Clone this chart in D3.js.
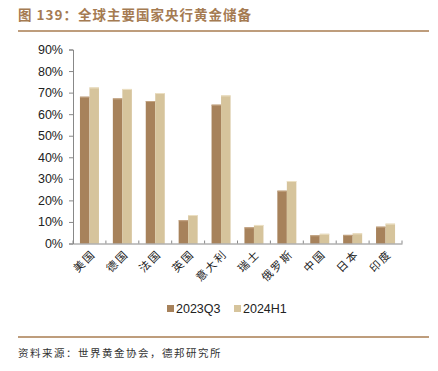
<!DOCTYPE html>
<html>
<head>
<meta charset="utf-8">
<script src="https://cdn.jsdelivr.net/npm/d3@7"></script>
<style>
  body { margin: 0; background: #fff; }
  svg { display: block; }
</style>
</head>
<body>
<div id="chart"></div>
<script>
// countries and gold share of reserves (%)
const countries = ["美国", "德国", "法国", "英国", "意大利", "瑞士", "俄罗斯", "中国", "日本", "印度"];
const series = ["2023Q3", "2024H1"];
const q3 = [68.1, 67.3, 66.1, 10.8, 64.4, 7.5, 24.5, 3.8, 4.0, 7.8];
const h1 = [72.4, 71.7, 69.8, 13.2, 68.7, 8.6, 29.0, 4.5, 4.7, 9.2];
const yTicks = [0, 10, 20, 30, 40, 50, 60, 70, 80, 90];

const W = 438, H = 371;
const colors = ["#a7825b", "#d6c49c"];
const cjk = "'Noto Sans CJK SC', sans-serif";

const svg = d3.select("#chart").append("svg")
    .attr("width", W)
    .attr("height", H);

// title
svg.append("text")
    .attr("x", 18).attr("y", 20)
    .attr("font-family", cjk)
    .attr("font-size", 13.5)
    .attr("font-weight", "bold")
    .attr("letter-spacing", 1)
    .attr("fill", "#a57b52")
    .text("图 139：全球主要国家央行黄金储备");

svg.append("line")
    .attr("x1", 18).attr("x2", 429)
    .attr("y1", 31).attr("y2", 31)
    .attr("stroke", "#a97c50").attr("stroke-width", 1.5);

// scales
let x = d3.scaleBand().domain(countries).range([73, 402]);
let y = d3.scaleLinear().domain([0, 90]).range([243.5, 49.5]);
let xs = d3.scaleBand().domain(series).range([0, 19]);

const g = svg.append("g");

// bars
const data = countries.map((c, i) => ({ c, vals: [q3[i], h1[i]] }));
const grp = g.selectAll("g.cat")
    .data(data)
  .enter().append("g")
    .attr("class", "cat")
    .attr("transform", d => "translate(" + (x(d.c) + x.bandwidth() / 2 - 9.5) + ",0)");

grp.selectAll("rect")
    .data(d => d.vals.map((v, j) => ({ s: series[j], v, j })))
  .enter().append("rect")
    .attr("x", d => xs(d.s))
    .attr("width", xs.bandwidth())
    .attr("y", d => y(d.v))
    .attr("height", d => y(0) - y(d.v))
    .attr("fill", d => colors[d.j]);

// thin highlight on bar tops
grp.selectAll("line.top")
    .data(d => d.vals.map((v, j) => ({ s: series[j], v, j })))
  .enter().append("line")
    .attr("class", "top")
    .attr("x1", d => xs(d.s)).attr("x2", d => xs(d.s) + xs.bandwidth())
    .attr("y1", d => y(d.v) + 0.5).attr("y2", d => y(d.v) + 0.5)
    .attr("stroke", d => d.j === 0 ? "#c4a583" : "#ece0c4")
    .attr("stroke-width", 1);

// y axis
const yAxis = svg.append("g")
    .attr("transform", "translate(73,0)")
    .call(d3.axisLeft(y).tickValues(yTicks).tickSize(4).tickFormat(d => d + "%"));
yAxis.select(".domain").attr("stroke", "#888");
yAxis.selectAll(".tick line").attr("stroke", "#888");
yAxis.selectAll(".tick text")
    .attr("x", -10)
    .attr("font-family", "'Liberation Sans', Arial, sans-serif")
    .attr("font-size", 12.5)
    .attr("fill", "#222");

// x axis
const xAxis = svg.append("g")
    .attr("transform", "translate(0," + y(0) + ")")
    .call(d3.axisBottom(x).tickSize(0).tickSizeOuter(0));
xAxis.select(".domain").attr("stroke", "#888");
xAxis.selectAll(".tick text")
    .attr("font-family", cjk)
    .attr("font-size", 11)
    .attr("letter-spacing", 2)
    .attr("fill", "#222")
    .attr("text-anchor", "end")
    .attr("dy", 0)
    .attr("transform", "translate(7,11) rotate(-45)")
    .attr("y", 0).attr("x", 0);

// category boundary ticks
svg.append("g").selectAll("line")
    .data(countries.concat(["end"]))
  .enter().append("line")
    .attr("x1", (d, i) => i < countries.length ? x(d) : x.range()[1])
    .attr("x2", (d, i) => i < countries.length ? x(d) : x.range()[1])
    .attr("y1", y(0)).attr("y2", y(0) - 3)
    .attr("stroke", "#888");

// legend
const leg = svg.append("g").attr("transform", "translate(167,314)");
series.forEach((s, i) => {
  const lg = leg.append("g").attr("transform", "translate(" + (i * 67) + ",0)");
  lg.append("rect").attr("x", 0).attr("y", -9).attr("width", 7).attr("height", 7).attr("fill", colors[i]);
  lg.append("text")
      .attr("x", 9).attr("y", -1)
      .attr("font-family", "'Liberation Sans', Arial, sans-serif")
      .attr("font-size", 12.5)
      .attr("fill", "#222")
      .text(s);
});

svg.append("line")
    .attr("x1", 18).attr("x2", 429)
    .attr("y1", 337).attr("y2", 337)
    .attr("stroke", "#a97c50").attr("stroke-width", 1.5);

svg.append("text")
    .attr("x", 18).attr("y", 357)
    .attr("font-family", cjk)
    .attr("font-size", 10.5)
    .attr("letter-spacing", 1.5)
    .attr("fill", "#333")
    .text("资料来源：世界黄金协会，德邦研究所");
</script>
</body>
</html>
